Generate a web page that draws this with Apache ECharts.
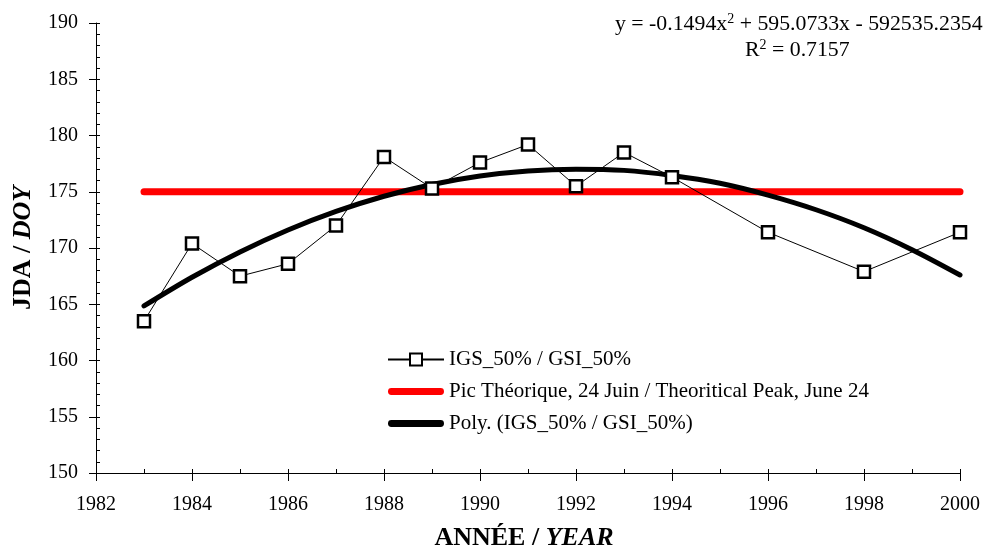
<!DOCTYPE html>
<html>
<head>
    <meta charset="utf-8">
    <title>JDA / DOY</title>
    <style>
        *{ margin:0; padding:0; box-sizing:border-box; }
        html, body, #chart{ width:984px; height:560px; overflow:hidden; background:#fff; }
    </style>
</head>
<body>
    <div id="chart"></div>
    <script src="https://cdn.jsdelivr.net/npm/echarts@6/dist/echarts.min.js"></script>
    <script>
        // values
        var igsYears = [1983, 1984, 1985, 1986, 1987, 1988, 1989, 1990, 1991, 1992, 1993, 1994, 1996, 1998, 2000];
        var igsDoy = [163.5, 170.4, 167.5, 168.6, 172.0, 178.1, 175.3, 177.6, 179.2, 175.5, 178.5, 176.3, 171.4, 167.9, 171.4];

        var peakYears = [1983, 2000];
        var peakDoy = [175, 175];

        var polyYears = [1983, 1984, 1985, 1986, 1987, 1988, 1989, 1990, 1991, 1992, 1993, 1994, 1995, 1996, 1997, 1998, 1999, 2000];
        var polyDoy = [164.85, 167.4, 169.65, 171.6, 173.25, 174.6, 175.65, 176.4, 176.85, 177.0, 176.9, 176.45, 175.75, 174.7, 173.4, 171.8, 169.85, 167.6];

        var seriesNames = ['IGS_50% / GSI_50%', 'Pic Théorique, 24 Juin / Theoritical Peak, June 24', 'Poly. (IGS_50% / GSI_50%)'];

        function pairs(xs, ys) {
            return xs.map(function (x, i) { return [x, ys[i]]; });
        }

        var font = '"Liberation Serif", "Times New Roman", serif';
        var barIcon = 'path://M3.5,0 L54.5,0 A3.5,3.5 0 0 1 54.5,7 L3.5,7 A3.5,3.5 0 0 1 3.5,0 Z';
        var myChart = echarts.init(document.getElementById('chart'));

        var supRich = {
            n: { fontFamily: font, fontSize: 21.8, fill: '#000', lineHeight: 24 },
            s: { fontFamily: font, fontSize: 14, fill: '#000', verticalAlign: 'top', lineHeight: 24 }
        };
        var titleRich = {
            a: { fontFamily: font, fontSize: 26, fontWeight: 'bold', fill: '#000' },
            b: { fontFamily: font, fontSize: 26, fontWeight: 'bold', fontStyle: 'italic', fill: '#000' }
        };

        var option = {
            animation: false,
            textStyle: { fontFamily: font, color: '#000' },
            grid: { left: 96, right: 24, top: 23, bottom: 87 },
            legend: {
                data: [
                    { name: seriesNames[0] },
                    { name: seriesNames[1], icon: barIcon },
                    { name: seriesNames[2], icon: barIcon }
                ],
                orient: 'vertical',
                left: 387,
                top: 349,
                padding: 0,
                itemWidth: 56,
                itemHeight: 15,
                itemGap: 11,
                textStyle: { fontFamily: font, fontSize: 21, color: '#000' }
            },
            graphic: [
                {
                    type: 'text', left: 615, top: 12,
                    style: { text: '{n|y = -0.1494x}{s|2}{n| + 595.0733x - 592535.2354}', rich: supRich }
                },
                {
                    type: 'text', left: 745, top: 38,
                    style: { text: '{n|R}{s|2}{n| = 0.7157}', rich: supRich }
                },
                {
                    type: 'text', x: 23, y: 248, rotation: Math.PI / 2,
                    style: {
                        text: '{a|JDA / }{b|DOY}',
                        align: 'center', verticalAlign: 'middle',
                        rich: titleRich
                    }
                },
                {
                    type: 'text', x: 524, y: 538,
                    style: {
                        text: '{a|ANNÉE / }{b|YEAR}',
                        align: 'center', verticalAlign: 'middle',
                        rich: titleRich
                    }
                }
            ],
            xAxis: [
                {
                    type: 'value', min: 1982, max: 2000, interval: 2,
                    axisLine: { lineStyle: { color: '#000', width: 1 } },
                    axisTick: { inside: false, length: 8, lineStyle: { color: '#000' } },
                    axisLabel: {
                        fontFamily: font, fontSize: 20, color: '#000', margin: 22,
                        formatter: function (v) { return String(v); }
                    },
                    splitLine: { show: false }
                },
                {
                    type: 'value', min: 1982, max: 2000, interval: 2, position: 'bottom',
                    axisLine: { show: false },
                    axisTick: { inside: true, length: 4, lineStyle: { color: '#000' } },
                    minorTick: { show: true, splitNumber: 2, length: 4, lineStyle: { color: '#000' } },
                    axisLabel: { show: false },
                    splitLine: { show: false }
                }
            ],
            yAxis: [
                {
                    type: 'value', min: 150, max: 190, interval: 5,
                    axisLine: { show: true, lineStyle: { color: '#000', width: 1 } },
                    axisTick: { show: true, inside: false, length: 7, lineStyle: { color: '#000' } },
                    axisLabel: { fontFamily: font, fontSize: 20, color: '#000', margin: 18 },
                    splitLine: { show: false }
                },
                {
                    type: 'value', min: 150, max: 190, interval: 5, position: 'left',
                    axisLine: { show: false },
                    axisTick: { show: true, inside: true, length: 4, lineStyle: { color: '#000' } },
                    minorTick: { show: true, splitNumber: 5, length: 4, lineStyle: { color: '#000' } },
                    axisLabel: { show: false },
                    splitLine: { show: false }
                }
            ],
            series: [
                {
                    name: seriesNames[0],
                    type: 'line',
                    data: pairs(igsYears, igsDoy),
                    symbol: 'rect',
                    symbolSize: 12,
                    showAllSymbol: true,
                    lineStyle: { color: '#000', width: 1 },
                    itemStyle: { color: '#fff', borderColor: '#000', borderWidth: 2.5 },
                    z: 4
                },
                {
                    name: seriesNames[1],
                    type: 'line',
                    data: pairs(peakYears, peakDoy),
                    symbol: 'none',
                    lineStyle: { color: '#ff0000', width: 7, cap: 'round' },
                    itemStyle: { color: '#ff0000' },
                    z: 2
                },
                {
                    name: seriesNames[2],
                    type: 'line',
                    data: pairs(polyYears, polyDoy),
                    symbol: 'none',
                    smooth: 0.3,
                    lineStyle: { color: '#000', width: 5, cap: 'round' },
                    itemStyle: { color: '#000' },
                    z: 3
                }
            ]
        };

        myChart.setOption(option);
    </script>
</body>
</html>
